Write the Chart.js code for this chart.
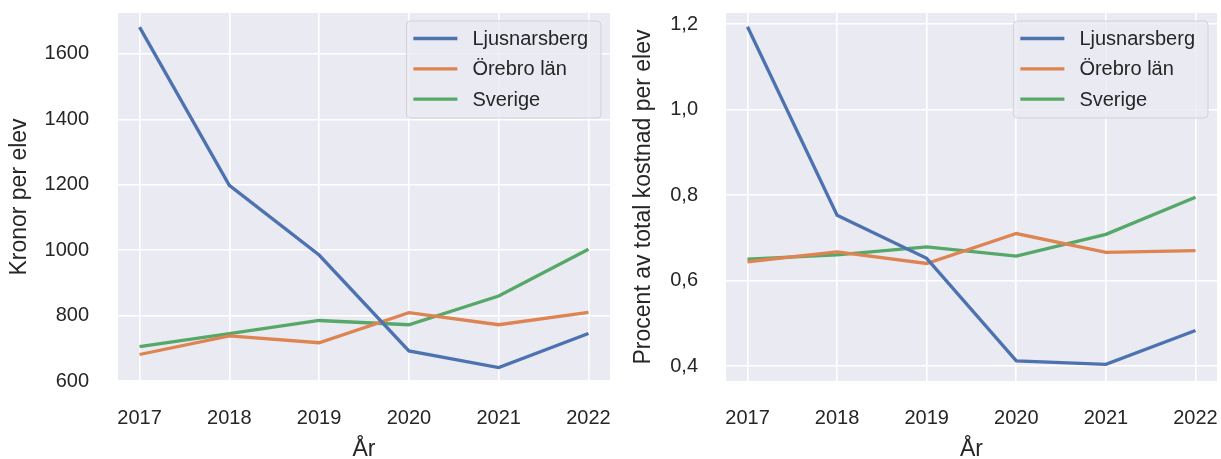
<!DOCTYPE html>
<html>
<head>
<meta charset="utf-8">
<script src="https://cdn.jsdelivr.net/npm/chart.js@4.4.1/dist/chart.umd.min.js"></script>
<style>
  html, body { margin: 0; padding: 0; background: #fff; overflow: hidden; }
  .panel { position: absolute; top: 0; height: 459px; }
  #leftPanel { left: 0; width: 620px; }
  #rightPanel { left: 620px; width: 601px; }
</style>
</head>
<body>
<div class="panel" id="leftPanel"><canvas id="kronorChart"></canvas></div>
<div class="panel" id="rightPanel"><canvas id="procentChart"></canvas></div>
<script>
const years = [2017, 2018, 2019, 2020, 2021, 2022];
const seriesNames = ['Ljusnarsberg', 'Örebro län', 'Sverige'];

// Kronor per elev
const kronorLjusnarsberg = [1682, 1198, 985, 692, 641, 745];
const kronorOrebro = [681, 738, 717, 809, 772, 810];
const kronorSverige = [705, 745, 785, 772, 860, 1003];
const kronorTicks = [600, 800, 1000, 1200, 1400, 1600];

// Procent av total kostnad per elev
const procentLjusnarsberg = [1.194, 0.753, 0.652, 0.412, 0.404, 0.483];
const procentOrebro = [0.644, 0.667, 0.640, 0.710, 0.666, 0.670];
const procentSverige = [0.650, 0.660, 0.679, 0.657, 0.708, 0.795];
const procentTicks = [0.4, 0.6, 0.8, 1.0, 1.2];

const colors = ['#4c72b0', '#dd8452', '#55a868'];
const FONT = '"Liberation Sans", Arial, sans-serif';
const TEXT = '#262626';

// grey plot background, seaborn style
const plotBackground = {
  id: 'plotBackground',
  beforeDraw(chart) {
    const { ctx, chartArea: a } = chart;
    ctx.save();
    ctx.fillStyle = '#eaeaf2';
    ctx.fillRect(a.left, a.top, a.right - a.left, a.bottom - a.top);
    ctx.restore();
  }
};

// legend drawn inside the plot, upper right
const insideLegend = {
  id: 'insideLegend',
  afterDatasetsDraw(chart) {
    const { ctx, chartArea: a } = chart;
    ctx.save();
    ctx.font = '20px ' + FONT;
    const labels = chart.data.datasets.map(d => d.label);
    const textW = Math.max(...labels.map(l => ctx.measureText(l).width));
    const w = 66 + textW + 13;
    const h = 97;
    const x = a.right - 9 - w;
    const y = a.top + 8;
    ctx.beginPath();
    ctx.roundRect(x, y, w, h, 4);
    ctx.fillStyle = 'rgba(234,234,242,0.8)';
    ctx.fill();
    ctx.strokeStyle = 'rgba(204,204,204,0.8)';
    ctx.lineWidth = 1;
    ctx.stroke();
    chart.data.datasets.forEach((d, i) => {
      const cy = y + 17.5 + i * 30.3;
      ctx.beginPath();
      ctx.moveTo(x + 7, cy);
      ctx.lineTo(x + 51, cy);
      ctx.strokeStyle = d.borderColor;
      ctx.lineWidth = 3.3;
      ctx.stroke();
      ctx.fillStyle = TEXT;
      ctx.textBaseline = 'middle';
      ctx.fillText(d.label, x + 66, cy + 1);
    });
    ctx.restore();
  }
};

function makeDatasets(seriesList) {
  return seriesList.map((vals, i) => ({
    label: seriesNames[i],
    data: years.map((yr, j) => ({ x: yr, y: vals[j] })),
    borderColor: colors[i],
    backgroundColor: colors[i],
    borderWidth: 3.3,
    pointRadius: 0,
    tension: 0
  }));
}

function makeChart(id, seriesList, opts) {
  return new Chart(document.getElementById(id).getContext('2d'), {
    type: 'line',
    data: { datasets: makeDatasets(seriesList) },
    plugins: [plotBackground, insideLegend],
    options: {
      responsive: true,
      maintainAspectRatio: false,
      animation: false,
      layout: { padding: { top: 13, right: opts.padRight, bottom: 0, left: 0 } },
      plugins: { legend: { display: false }, tooltip: { enabled: false } },
      scales: {
        x: {
          type: 'linear',
          min: 2016.76,
          max: 2022.24,
          afterBuildTicks: s => { s.ticks = years.map(v => ({ value: v })); },
          afterFit: s => { s.height = 78; s.paddingLeft = 0; s.paddingRight = 0; },
          grid: { color: '#ffffff', lineWidth: 1.6, drawTicks: false },
          border: { display: false },
          ticks: {
            padding: 25,
            color: TEXT,
            font: { family: FONT, size: 20 },
            callback: v => String(v)
          },
          title: {
            display: true,
            text: 'År',
            color: TEXT,
            font: { family: FONT, size: 23, lineHeight: 0.8 },
            padding: 0
          }
        },
        y: {
          min: opts.yMin,
          max: opts.yMax,
          afterBuildTicks: s => { s.ticks = opts.ticks.map(v => ({ value: v })); },
          afterFit: s => { s.width = opts.yWidth; s.paddingTop = 0; s.paddingBottom = 0; },
          grid: { color: '#ffffff', lineWidth: 1.6, drawTicks: false },
          border: { display: false },
          ticks: {
            padding: opts.tickPad,
            color: TEXT,
            font: { family: FONT, size: 20 },
            callback: opts.fmt
          },
          title: {
            display: true,
            text: opts.title,
            color: TEXT,
            font: { family: FONT, size: 23 },
            padding: { top: opts.titlePad, bottom: 0 }
          }
        }
      }
    }
  });
}

makeChart('kronorChart', [kronorLjusnarsberg, kronorOrebro, kronorSverige], {
  yMin: 600, yMax: 1725, ticks: kronorTicks,
  yWidth: 118, padRight: 10, tickPad: 29, titlePad: 6,
  title: 'Kronor per elev',
  fmt: v => String(v)
});

makeChart('procentChart', [procentLjusnarsberg, procentOrebro, procentSverige], {
  yMin: 0.365, yMax: 1.226, ticks: procentTicks,
  yWidth: 106, padRight: 4, tickPad: 28, titlePad: 10,
  title: 'Procent av total kostnad per elev',
  fmt: v => v.toFixed(1).replace('.', ',')
});
</script>
</body>
</html>
